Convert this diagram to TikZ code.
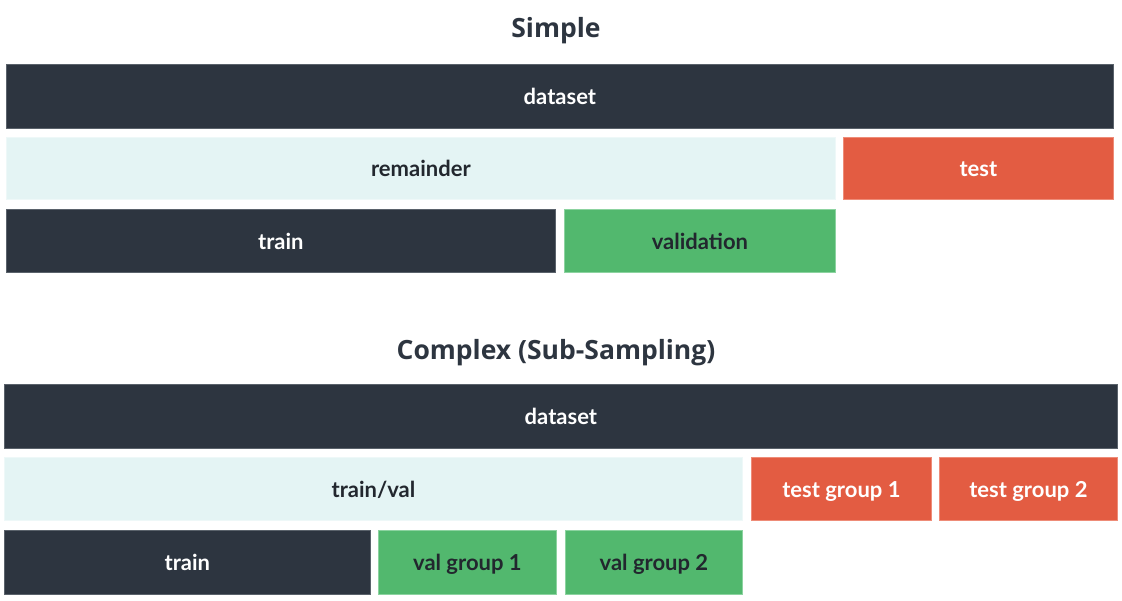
\documentclass[tikz,border=0pt]{standalone}
\usepackage{fontspec}
\newfontfamily\titlefont{Open Sans}
\newfontfamily\labfont{Lato}
\definecolor{slate}{HTML}{2D3540}
\definecolor{slateline}{HTML}{5A626B}
\definecolor{pale}{HTML}{E4F4F4}
\definecolor{paleline}{HTML}{EEF8F8}
\definecolor{tomato}{HTML}{E35C42}
\definecolor{tomatoline}{HTML}{EE8C78}
\definecolor{leaf}{HTML}{52B86E}
\definecolor{leafline}{HTML}{8CD3A0}
\definecolor{ink}{HTML}{22272E}
\tikzset{
  x=1pt,y=-1pt,
  blk/.style={rectangle, inner sep=0pt, anchor=north west, line width=0.8pt,
    text height=17pt, text depth=0pt,
    font=\labfont\bfseries\fontsize{22}{26}\selectfont},
  darkblk/.style={blk, fill=slate, draw=slateline, text=white},
  paleblk/.style={blk, fill=pale, draw=paleline, text=ink},
  redblk/.style={blk, fill=tomato, draw=tomatoline, text=white},
  greenblk/.style={blk, fill=leaf, draw=leafline, text=ink},
  ttl/.style={font=\titlefont\bfseries\fontsize{26.5}{30}\selectfont, text=slate, inner sep=0pt}
}
\newcommand{\blkat}[7]{% style, name, x1, y1, x2, y2, text
  \node[#1, minimum width=#5-#3, minimum height=#6-#4] (#2) at (#3,#4) {#7};}
\begin{document}
\begin{tikzpicture}
\useasboundingbox (0,0) rectangle (1122,601);
\node[ttl] (t1) at (556,31) {Simple};
\blkat{darkblk}{d1}{6}{64}{1113}{128}{dataset}
\blkat{paleblk}{rem}{6}{137}{835}{199}{remainder}
\blkat{redblk}{test}{843}{137}{1113}{199}{test}
\blkat{darkblk}{tr1}{6}{209}{555}{272}{train}
\blkat{greenblk}{val}{564}{209}{835}{272}{validation}

\node[ttl] (t2) at (556,353) {Complex (Sub-Sampling)};
\blkat{darkblk}{d2}{4}{384}{1117}{448}{dataset}
\blkat{paleblk}{tv}{4}{457}{742}{520}{train/val}
\blkat{redblk}{tg1}{751}{457}{931}{520}{test group 1}
\blkat{redblk}{tg2}{939}{457}{1117}{520}{test group 2}
\blkat{darkblk}{tr2}{4}{530}{370}{594}{train}
\blkat{greenblk}{vg1}{378}{530}{556}{594}{val group 1}
\blkat{greenblk}{vg2}{565}{530}{742}{594}{val group 2}
\end{tikzpicture}
\end{document}
